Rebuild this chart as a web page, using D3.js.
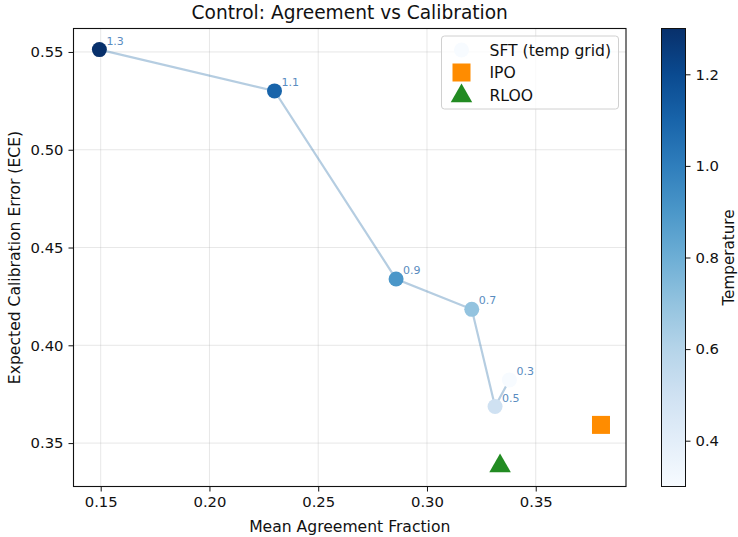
<!DOCTYPE html>
<html>
<head>
<meta charset="utf-8">
<script src="https://cdn.jsdelivr.net/npm/d3@7"></script>
<style>
  body { margin: 0; background: #fff; }
  text { font-family: "DejaVu Sans", sans-serif; fill: #111; }
</style>
</head>
<body>
<div id="chart"></div>
<script>
// SFT temperature grid
const temps = [1.3, 1.1, 0.9, 0.7, 0.5, 0.3];
const sftAgreement = [0.1494, 0.2299, 0.2858, 0.3206, 0.3313, 0.3379];
const sftEce = [0.5512, 0.5301, 0.4339, 0.4184, 0.3687, 0.3823];

// other methods
const ipo = { agreement: 0.3800, ece: 0.3593 };
const rloo = { agreement: 0.3336, ece: 0.3383 };

const xTicks = [0.15, 0.20, 0.25, 0.30, 0.35];
const yTicks = [0.35, 0.40, 0.45, 0.50, 0.55];
const cbTicks = [0.4, 0.6, 0.8, 1.0, 1.2];

const width = 738, height = 537;
const margin = { left: 73.5, right: 626, top: 28.5, bottom: 486.5 };

const svg = d3.select('#chart').append('svg')
  .attr('width', width)
  .attr('height', height);

const x = d3.scaleLinear().domain([0.1375, 0.3915]).range([margin.left, margin.right]);
const y = d3.scaleLinear().domain([0.3278, 0.5620]).range([margin.bottom, margin.top]);
const color = d3.scaleSequential(d3.interpolateBlues).domain([0.3, 1.3]);

// grid
svg.append('g').selectAll('line').data(xTicks).enter().append('line')
  .attr('x1', d => x(d)).attr('x2', d => x(d))
  .attr('y1', margin.top).attr('y2', margin.bottom)
  .attr('stroke', '#b0b0b0').attr('stroke-opacity', 0.3).attr('stroke-width', 1);
svg.append('g').selectAll('line').data(yTicks).enter().append('line')
  .attr('y1', d => y(d)).attr('y2', d => y(d))
  .attr('x1', margin.left).attr('x2', margin.right)
  .attr('stroke', '#b0b0b0').attr('stroke-opacity', 0.3).attr('stroke-width', 1);

// axes
const xAxis = svg.append('g')
  .attr('transform', 'translate(0,' + margin.bottom + ')')
  .call(d3.axisBottom(x).tickValues(xTicks).tickFormat(d3.format('.2f')).tickSizeOuter(0).tickSize(5).tickPadding(5));
const yAxis = svg.append('g')
  .attr('transform', 'translate(' + margin.left + ',0)')
  .call(d3.axisLeft(y).tickValues(yTicks).tickFormat(d3.format('.2f')).tickSizeOuter(0).tickSize(5).tickPadding(5));
[xAxis, yAxis].forEach(a => {
  a.select('.domain').remove();
  a.selectAll('text').attr('font-size', 14.8).style('font-family', 'DejaVu Sans').attr('fill', '#111');
  a.selectAll('line').attr('stroke', '#111');
});

// frame
svg.append('rect')
  .attr('x', margin.left).attr('y', margin.top)
  .attr('width', margin.right - margin.left).attr('height', margin.bottom - margin.top)
  .attr('fill', 'none').attr('stroke', '#111').attr('stroke-width', 1.1);

// line through SFT points
const pts = temps.map((t, i) => ({ t: t, x: sftAgreement[i], y: sftEce[i] }));
const line = d3.line().x(d => x(d.x)).y(d => y(d.y));
svg.append('path')
  .datum(pts)
  .attr('d', line)
  .attr('fill', 'none')
  .attr('stroke', '#4682b4')
  .attr('stroke-opacity', 0.4)
  .attr('stroke-width', 2.2);

svg.append('g').selectAll('circle').data(pts).enter().append('circle')
  .attr('cx', d => x(d.x)).attr('cy', d => y(d.y))
  .attr('r', 7.5)
  .attr('fill', d => color(d.t));

svg.append('g').selectAll('text').data(pts).enter().append('text')
  .attr('x', d => x(d.x) + 7)
  .attr('y', d => y(d.y) - 5)
  .attr('font-size', 11)
  .style('fill', '#5a8cc0')
  .text(d => d3.format('.1f')(d.t));

// IPO square
svg.append('rect')
  .attr('x', x(ipo.agreement) - 9).attr('y', y(ipo.ece) - 9)
  .attr('width', 18).attr('height', 18)
  .attr('fill', '#ff8c00');

// RLOO triangle
const tri = d3.symbol().type(d3.symbolTriangle).size(200);
svg.append('path')
  .attr('d', tri)
  .attr('transform', 'translate(' + x(rloo.agreement) + ',' + y(rloo.ece) + ')')
  .attr('fill', '#228b22');

// legend
const lg = svg.append('g').attr('transform', 'translate(441.5,36)');
lg.append('rect')
  .attr('width', 177).attr('height', 73).attr('rx', 3)
  .attr('fill', '#fff').attr('fill-opacity', 0.8)
  .attr('stroke', '#d0d0d0');
const legendItems = ['SFT (temp grid)', 'IPO', 'RLOO'];
legendItems.forEach((name, i) => {
  const cy = 14 + i * 22.5;
  if (i === 0) {
    lg.append('circle').attr('cx', 20).attr('cy', cy).attr('r', 7.5).attr('fill', color(0.3));
  } else if (i === 1) {
    lg.append('rect').attr('x', 11).attr('y', cy - 9).attr('width', 18).attr('height', 18).attr('fill', '#ff8c00');
  } else {
    lg.append('path').attr('d', tri).attr('transform', 'translate(20,' + (cy + 1) + ')').attr('fill', '#228b22');
  }
  lg.append('text').attr('x', 48).attr('y', cy + 5.5).attr('font-size', 15.6).text(name);
});

// colorbar
const cbX = 661.5, cbW = 24;
const cy = d3.scaleLinear().domain([0.3, 1.3]).range([margin.bottom, margin.top]);
const grad = svg.append('defs').append('linearGradient')
  .attr('id', 'cbgrad').attr('x1', 0).attr('y1', 1).attr('x2', 0).attr('y2', 0);
d3.range(0, 1.0001, 0.1).forEach(f => {
  grad.append('stop').attr('offset', f).attr('stop-color', d3.interpolateBlues(f));
});
svg.append('rect')
  .attr('x', cbX).attr('y', margin.top)
  .attr('width', cbW).attr('height', margin.bottom - margin.top)
  .attr('fill', 'url(#cbgrad)')
  .attr('stroke', '#111').attr('stroke-width', 1);
const cbAxis = svg.append('g')
  .attr('transform', 'translate(' + (cbX + cbW) + ',0)')
  .call(d3.axisRight(cy).tickValues(cbTicks).tickFormat(d3.format('.1f')).tickSize(5).tickPadding(5).tickSizeOuter(0));
cbAxis.select('.domain').remove();
cbAxis.selectAll('text').attr('font-size', 14.8).style('font-family', 'DejaVu Sans').attr('fill', '#111');
cbAxis.selectAll('line').attr('stroke', '#111');

svg.append('text')
  .attr('transform', 'translate(734,' + ((margin.top + margin.bottom) / 2) + ') rotate(-90)')
  .attr('text-anchor', 'middle')
  .attr('font-size', 15.2)
  .text('Temperature');

// titles
svg.append('text')
  .attr('x', (margin.left + margin.right) / 2).attr('y', 19)
  .attr('text-anchor', 'middle')
  .attr('font-size', 18.6)
  .text('Control: Agreement vs Calibration');
svg.append('text')
  .attr('x', (margin.left + margin.right) / 2).attr('y', 532)
  .attr('text-anchor', 'middle')
  .attr('font-size', 15.6)
  .text('Mean Agreement Fraction');
svg.append('text')
  .attr('transform', 'translate(19.5,' + ((margin.top + margin.bottom) / 2) + ') rotate(-90)')
  .attr('text-anchor', 'middle')
  .attr('font-size', 15.6)
  .text('Expected Calibration Error (ECE)');
</script>
</body>
</html>
